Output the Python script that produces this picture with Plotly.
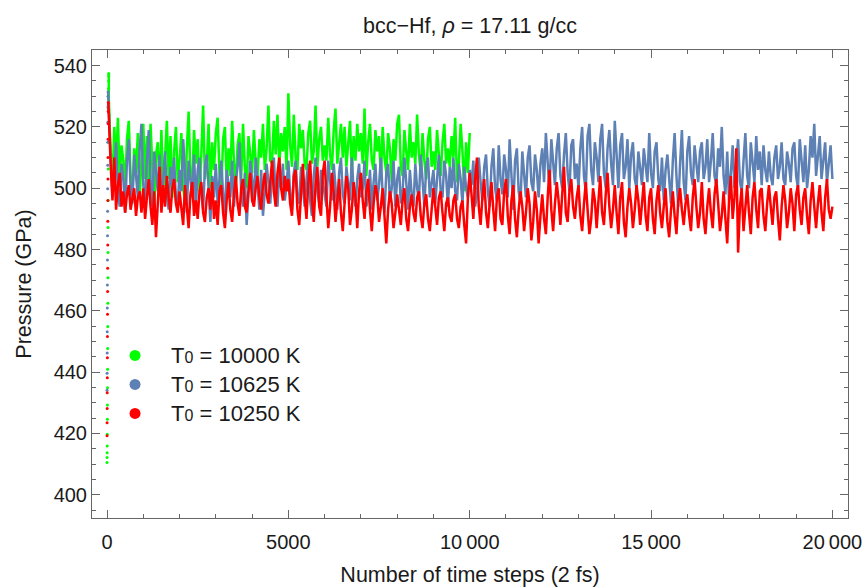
import plotly.graph_objects as go

# ---------------- data ----------------
# initial transient (first few time steps, all drawn at x ~ 0)
green_transient = [410.5, 412.1, 413.7, 415.9, 419.7, 424.6, 429.3, 434.9, 440.9, 447.7,
                   454.9, 462.5, 470.8, 479.0, 487.2, 496.0, 506.3, 515.0, 521.5, 526.0,
                   529.5, 532.5, 535.0, 536.6, 537.4]
blue_transient = [434.1, 439.6, 446.2, 453.2, 460.9, 468.4, 476.6, 484.5, 492.5, 499.8,
                  507.5, 515.0, 521.5, 526.5, 530.0, 531.5]
red_transient = [419.2, 423.5, 428.1, 433.3, 438.2, 444.7, 451.6, 458.9, 466.3, 473.9,
                 481.5, 489.2, 496.0, 503.0, 510.0, 516.0, 521.0, 525.0, 528.0]

# pressure sampled every 50 time steps, starting at step 50
green_p = [
    529, 512, 501, 520, 507, 523, 503, 514, 509, 500,
    516, 522, 504, 498, 513, 505, 518, 497, 508, 521,
    503, 517, 499, 521, 507, 492, 511, 515, 500, 519,
    498, 510, 522, 503, 517, 497, 512, 520, 502, 509,
    518, 500, 496, 513, 525, 504, 501, 519, 508, 516,
    499, 511, 527, 503, 508, 521, 500, 515, 506, 518,
    523, 505, 498, 516, 520, 502, 513, 504, 522, 509,
    500, 514, 518, 503, 521, 507, 500, 517, 511, 505,
    519, 508, 504, 516, 510, 521, 506, 513, 527, 509,
    508, 522, 511, 524, 507, 518, 512, 520, 506, 531,
    514, 507, 524, 510, 506, 521, 513, 519, 508, 506,
    518, 522, 508, 512, 527, 507, 516, 520, 509, 514,
    509, 523, 511, 506, 519, 526, 508, 515, 521, 510,
    520, 507, 514, 522, 505, 517, 509, 521, 512, 518,
    508, 526, 504, 515, 521, 509, 506, 519, 512, 517,
    503, 520, 510, 505, 518, 513, 502, 516, 509, 521,
    524, 507, 504, 519, 512, 506, 521, 510, 515, 508,
    524, 511, 505, 518, 509, 503, 516, 520, 507, 512,
    506, 519, 511, 504, 515, 521, 508, 513, 507, 517,
    510, 523, 502, 508, 521, 512, 499, 515, 505, 518,
]
blue_p = [
    524, 510, 497, 506, 515, 499, 494, 508, 503, 492,
    509, 516, 500, 495, 511, 504, 497, 513, 521, 501,
    496, 509, 519, 503, 494, 512, 506, 499, 511, 495,
    503, 512, 498, 493, 507, 501, 510, 496, 494, 506,
    499, 516, 505, 492, 509, 503, 497, 511, 494, 506,
    510, 498, 493, 507, 511, 500, 489, 504, 497, 508,
    495, 503, 509, 498, 492, 506, 501, 497, 509, 494,
    502, 507, 515, 499, 494, 505, 488, 497, 509, 503,
    496, 510, 501, 493, 506, 491, 499, 508, 502, 495,
    504, 510, 497, 494, 506, 500, 508, 496, 501, 509,
    498, 493, 505, 509, 497, 495, 507, 501, 494, 503,
    508, 496, 491, 504, 510, 499, 495, 506, 502, 497,
    494, 509, 503, 496, 508, 500, 493, 505, 510, 498,
    495, 507, 502, 496, 510, 499, 494, 503, 508, 497,
    500, 509, 494, 497, 506, 493, 502, 508, 496, 501,
    510, 498, 492, 505, 508, 496, 500, 509, 494, 503,
    507, 495, 499, 510, 502, 493, 506, 498, 494, 508,
    500, 496, 511, 503, 494, 507, 510, 497, 501, 506,
    495, 503, 511, 499, 497, 509, 504, 494, 507, 500,
    510, 499, 496, 508, 503, 495, 507, 500, 497, 506,
    501, 509, 494, 498, 510, 502, 496, 507, 511, 499,
    494, 507, 513, 500, 496, 514, 503, 498, 511, 506,
    497, 516, 505, 493, 509, 513, 499, 495, 512, 504,
    497, 510, 514, 502, 499, 511, 506, 497, 508, 513,
    502, 518, 507, 499, 516, 509, 501, 513, 518, 504,
    500, 511, 518, 505, 499, 514, 516, 503, 508, 500,
    513, 520, 504, 499, 517, 521, 506, 501, 515, 510,
    502, 516, 521, 505, 500, 513, 519, 508, 501, 522,
    509, 500, 514, 518, 503, 507, 516, 500, 511, 515,
    503, 500, 512, 507, 501, 513, 508, 502, 518, 505,
    500, 512, 515, 503, 499, 510, 496, 506, 511, 501,
    495, 509, 518, 504, 494, 508, 519, 502, 496, 512,
    517, 505, 501, 514, 509, 502, 512, 515, 503, 507,
    516, 502, 509, 518, 504, 501, 513, 507, 520, 504,
    498, 512, 496, 505, 514, 500, 508, 516, 502, 499,
    509, 518, 504, 500, 515, 509, 502, 517, 506, 512,
    501, 514, 506, 502, 512, 504, 501, 510, 514, 503,
    507, 515, 503, 501, 512, 508, 502, 513, 515, 504,
    500, 516, 509, 502, 514, 500, 506, 517, 510, 521,
    504, 512, 517, 503, 508, 515, 502, 509, 514, 503,
]
red_p = [
    522, 508, 496, 510, 493, 501, 505, 494, 499, 492,
    498, 501, 493, 496, 500, 491, 497, 499, 492, 500,
    490, 497, 503, 494, 488, 499, 484, 495, 507, 492,
    501, 494, 504, 497, 492, 500, 503, 495, 492, 499,
    493, 488, 501, 495, 487, 498, 502, 491, 496, 490,
    499, 502, 492, 489, 497, 500, 493, 502, 490, 496,
    488, 499, 501, 492, 487, 496, 502, 493, 489, 498,
    504, 495, 491, 500, 503, 494, 492, 499, 505, 496,
    494, 500, 504, 497, 493, 501, 505, 498, 495, 502,
    509, 499, 494, 505, 510, 500, 496, 504, 499, 503,
    495, 491, 504, 506, 493, 488, 500, 508, 497, 490,
    502, 509, 496, 489, 501, 507, 494, 491, 505, 509,
    497, 487, 494, 505, 499, 489, 496, 503, 492, 486,
    495, 504, 500, 488, 493, 502, 497, 487, 499, 505,
    496, 490, 499, 503, 493, 486, 495, 501, 498, 489,
    494, 500, 491, 482, 493, 499, 495, 487, 492, 498,
    493, 488, 496, 500, 490, 486, 494, 498, 492, 489,
    497, 499, 491, 487, 495, 498, 490, 486, 493, 500,
    494, 488, 497, 499, 492, 486, 495, 497, 491, 489,
    496, 498, 490, 487, 494, 496, 488, 482, 497, 505,
    498, 490, 503, 510, 494, 488, 497, 503, 492, 487,
    495, 502, 493, 486, 497, 500, 490, 488, 499, 503,
    491, 485, 496, 501, 490, 484, 493, 499, 494, 486,
    492, 500, 495, 483, 489, 499, 493, 482, 491, 498,
    490, 485, 497, 506, 493, 486, 495, 502, 496, 488,
    498, 507, 492, 489, 499, 503, 494, 490, 497, 501,
    491, 486, 495, 502, 493, 485, 490, 500, 496, 487,
    496, 504, 492, 488, 498, 505, 494, 487, 493, 501,
    492, 485, 497, 502, 489, 484, 494, 500, 495, 487,
    493, 501, 496, 488, 495, 502, 491, 486, 497, 500,
    490, 485, 496, 501, 492, 487, 494, 500, 489, 484,
    493, 499, 491, 485, 496, 500, 493, 488, 495, 498,
    491, 486, 497, 503, 494, 487, 492, 502, 490, 485,
    494, 500, 492, 487, 498, 503, 495, 486, 491, 499,
    490, 482, 496, 504, 490, 497, 513, 479, 494, 500,
    486, 495, 501, 492, 485, 497, 502, 493, 487, 499,
    500, 491, 486, 495, 501, 494, 488, 497, 499, 490,
    483, 494, 501, 496, 487, 492, 500, 495, 486, 498,
    501, 493, 488, 497, 500, 491, 485, 496, 502, 494,
    487, 495, 501, 492, 486, 497, 503, 493, 490, 494,
]
SAMPLE_STEP = 50

legend_temps = ["10000", "10625", "10250"]
series_names = ["<span style='font-size:22px'>T<span style='font-size:16px'>0</span> = "
                + t + " K</span>" for t in legend_temps]
colors = ["#00ff00", "#5e81b5", "#ff0000"]

x_ticks = [0, 5000, 10000, 15000, 20000]
x_ticktext = ["0", "5000", "10\u2009000", "15\u2009000", "20\u2009000"]

# ---------------- figure ----------------
FONT = "Liberation Sans, Arial, sans-serif"
TXT = "#1a1a1a"
FRAME = "#666666"
fig = go.Figure()

series = [(green_transient, green_p), (blue_transient, blue_p), (red_transient, red_p)]
for (tr, main), col in zip(series, colors):
    tx = [2 * i for i in range(len(tr))]
    mx = [tx[-1]] + [SAMPLE_STEP * (i + 1) for i in range(len(main))]
    my = [tr[-1]] + main
    fig.add_trace(go.Scatter(x=mx, y=my, mode="lines",
                             line=dict(color=col, width=2.5),
                             showlegend=False, hoverinfo="skip"))
    fig.add_trace(go.Scatter(x=tx, y=tr, mode="markers",
                             marker=dict(color=col, size=3),
                             showlegend=False, hoverinfo="skip"))

for name, col in zip(series_names, colors):
    fig.add_trace(go.Scatter(x=[None], y=[None], mode="markers", name=name,
                             marker=dict(color=col, size=11)))

axis_common = dict(
    showgrid=False, zeroline=False, showline=True, linecolor=FRAME, linewidth=1,
    mirror="allticks", ticks="inside", ticklen=8, tickwidth=1, tickcolor=FRAME,
    tickfont=dict(family=FONT, size=20, color=TXT), automargin=False,
)

fig.update_layout(
    width=865, height=588,
    margin=dict(l=92, r=17, t=50, b=70),
    paper_bgcolor="white", plot_bgcolor="white",
    title=dict(text="bcc\u2212Hf, <i>\u03c1</i> = 17.11 g/cc", x=470 / 865, xanchor="center",
               y=1 - 25 / 588, yanchor="middle",
               font=dict(family=FONT, size=21.5, color=TXT)),
    xaxis=dict(range=[-414, 20430], tickmode="array", tickvals=x_ticks, ticktext=x_ticktext,
               ticklabelstandoff=6,
               minor=dict(ticks="inside", ticklen=4, tickmode="linear", tick0=0, dtick=1000,
                          tickcolor=FRAME, showgrid=False),
               title=dict(text="Number of time steps (2 fs)", standoff=14,
                          font=dict(family=FONT, size=21.5, color=TXT)),
               **axis_common),
    yaxis=dict(range=[392.4, 545.1], tickmode="linear", tick0=400, dtick=20,
               minor=dict(ticks="inside", ticklen=4, tickmode="linear", tick0=400, dtick=5,
                          tickcolor=FRAME, showgrid=False),
               title=dict(text="Pressure (GPa)", standoff=16,
                          font=dict(family=FONT, size=21.5, color=TXT)),
               **axis_common),
    legend=dict(x=0.0093, y=0.389, xanchor="left", yanchor="top",
                bgcolor="rgba(0,0,0,0)", itemwidth=62,
                font=dict(family=FONT, size=20, color=TXT)),
    showlegend=True,
)

# remove the default 8px body margin so the 865x588 figure fills the page exactly
fig.write_html("out.html", config={"displayModeBar": False},
               post_script="document.body.style.margin='0px';")
